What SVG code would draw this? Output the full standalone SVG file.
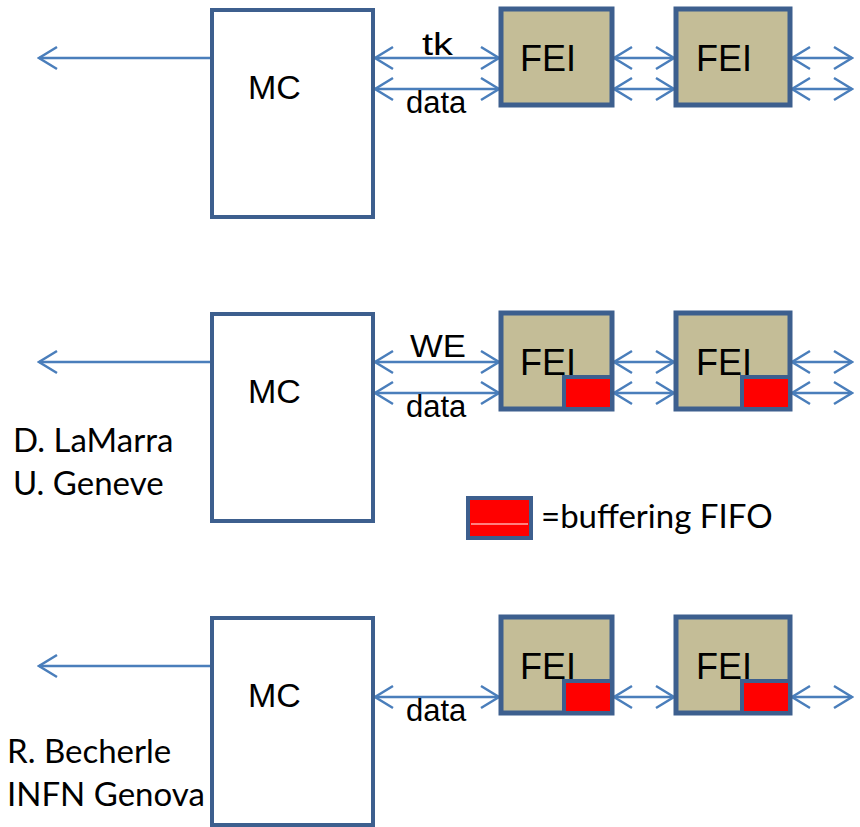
<svg xmlns="http://www.w3.org/2000/svg" width="860" height="827" viewBox="0 0 860 827">
<style>
.box{fill:#fff;stroke:#3d5f8e;stroke-width:4}
.fei{fill:#c4bd97;stroke:#3d5f8e;stroke-width:5}
.fifo{fill:#ff0000;stroke:#3d5f8e;stroke-width:4}
.ln{stroke:#4a7ebb;stroke-width:2.5;fill:none;marker-end:url(#ah)}
.dbl{marker-start:url(#ah)}
.t{font-family:"Liberation Sans",Arial,sans-serif;fill:#000}
.big{font-size:36px}
.mc{font-size:34px}
.sm{font-size:31px}
.c{font-family:Lato,"Open Sans",sans-serif;font-size:33px;fill:#000}
</style>
<defs>
<marker id="ah" viewBox="-20 -13 22 26" markerWidth="22" markerHeight="26" refX="0" refY="0" orient="auto-start-reverse" markerUnits="userSpaceOnUse">
<path d="M-18,-11 L0,0 L-18,11" fill="none" stroke="#4a7ebb" stroke-width="2.5"/>
</marker>
</defs>
<g id="connectors">
<path class="ln" d="M212,58 H39"/>
<path class="ln dbl" d="M375,58 H499"/>
<path class="ln dbl" d="M375,89 H499"/>
<path class="ln dbl" d="M614,58 H674"/>
<path class="ln dbl" d="M614,89 H674"/>
<path class="ln dbl" d="M792,58 H852"/>
<path class="ln dbl" d="M792,89 H852"/>
<path class="ln" d="M212,362 H39"/>
<path class="ln dbl" d="M375,362 H499"/>
<path class="ln dbl" d="M375,393 H499"/>
<path class="ln dbl" d="M614,362 H674"/>
<path class="ln dbl" d="M614,393 H674"/>
<path class="ln dbl" d="M792,362 H852"/>
<path class="ln dbl" d="M792,393 H852"/>
<path class="ln" d="M212,666 H39"/>
<path class="ln dbl" d="M375,697 H499"/>
<path class="ln dbl" d="M614,697 H674"/>
<path class="ln dbl" d="M792,697 H852"/>
</g>
<g id="mc1"><rect class="box" x="212" y="10" width="161" height="207"/><text class="t mc" x="248" y="99">MC</text></g>
<g id="mc2"><rect class="box" x="212" y="314" width="161" height="207"/><text class="t mc" x="248" y="403">MC</text></g>
<g id="mc3"><rect class="box" x="212" y="618" width="161" height="207"/><text class="t mc" x="248" y="707">MC</text></g>
<g id="fei1a"><rect class="fei" x="501" y="9" width="111" height="96"/><text class="t big" x="520" y="71">FEI</text></g>
<g id="fei1b"><rect class="fei" x="676" y="9" width="114" height="96"/><text class="t big" x="696" y="71">FEI</text></g>
<g id="fei2a"><rect class="fei" x="501" y="313" width="111" height="96"/><text class="t big" x="520" y="375">FEI</text><rect class="fifo" x="564" y="377" width="48" height="32"/></g>
<g id="fei2b"><rect class="fei" x="676" y="313" width="114" height="96"/><text class="t big" x="696" y="375">FEI</text><rect class="fifo" x="742" y="377" width="48" height="32"/></g>
<g id="fei3a"><rect class="fei" x="501" y="617" width="111" height="96"/><text class="t big" x="520" y="679">FEI</text><rect class="fifo" x="564" y="681" width="48" height="32"/></g>
<g id="fei3b"><rect class="fei" x="676" y="617" width="114" height="96"/><text class="t big" x="696" y="679">FEI</text><rect class="fifo" x="742" y="681" width="48" height="32"/></g>
<g id="labels">
<text class="t sm" x="422" y="55" textLength="31" lengthAdjust="spacingAndGlyphs">tk</text>
<text class="t sm" x="406" y="113">data</text>
<text class="t sm" x="410" y="357" textLength="56" lengthAdjust="spacingAndGlyphs">WE</text>
<text class="t sm" x="406" y="417">data</text>
<text class="t sm" x="406" y="721">data</text>
<text class="c" x="13" y="452">D. LaMarra</text>
<text class="c" x="13" y="495">U. Geneve</text>
<text class="c" x="7" y="763">R. Becherle</text>
<text class="c" x="7" y="806">INFN Genova</text>
</g>
<g id="legend">
<rect class="fifo" x="468" y="498" width="63" height="40"/>
<line x1="471" y1="524" x2="528" y2="524" stroke="#fff" stroke-width="1"/>
<text class="c" x="541" y="528">=buffering FIFO</text>
</g>
</svg>
